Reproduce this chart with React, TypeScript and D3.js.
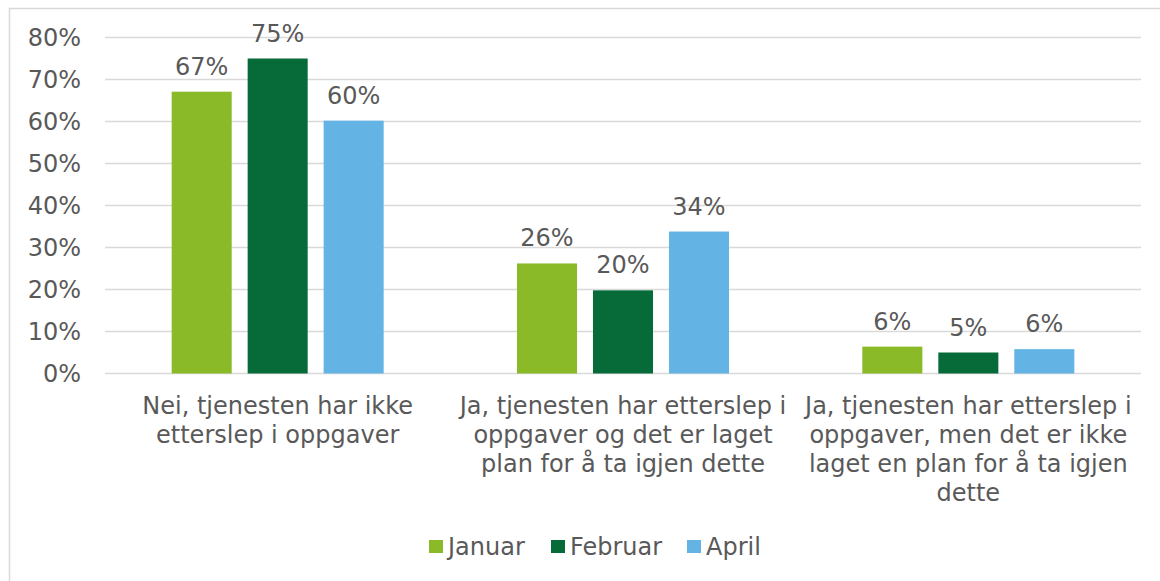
import React from "react";
import * as d3 from "d3";

const categories = [
  "Nei, tjenesten har ikke\netterslep i oppgaver",
  "Ja, tjenesten har etterslep i\noppgaver og det er laget\nplan for å ta igjen dette",
  "Ja, tjenesten har etterslep i\noppgaver, men det er ikke\nlaget en plan for å ta igjen\ndette",
];
const seriesNames = ["Januar", "Februar", "April"];
const januar = [67.1, 26.2, 6.4];
const februar = [75, 19.8, 5.0];
const april = [60.2, 33.8, 5.8];
const labelsJan = ["67%", "26%", "6%"];
const labelsFeb = ["75%", "20%", "5%"];
const labelsApr = ["60%", "34%", "6%"];
const yTicks = [0, 10, 20, 30, 40, 50, 60, 70, 80];
const colors = ["#8aba27", "#066b38", "#63b4e4"];

const W = 1160;
const H = 581;
const FONT = "'DejaVu Sans', Verdana, sans-serif";
const TEXT = "#595959";
const FS = 24;

export default function App() {
  const values = [januar, februar, april];
  const labels = [labelsJan, labelsFeb, labelsApr];
  const x0 = d3.scaleBand<number>().domain(d3.range(categories.length)).range([105, 1141]).paddingInner(0).paddingOuter(0);
  const x1 = d3.scaleBand<number>().domain(d3.range(3)).range([0, 212]).paddingInner(0.21).paddingOuter(0);
  const y = d3.scaleLinear().domain([0, 80]).range([373.5, 37.5]);
  const groupOffset = (x0.bandwidth() - 212) / 2;

  const legendX = [429, 551, 687];

  return (
    <svg width={W} height={H} style={{ position: "absolute", left: 0, top: 0, background: "#fff" }} fontFamily={FONT}>
      <rect x={9.5} y={8.5} width={W} height={H} fill="#fff" stroke="#d9d9d9" strokeWidth={1.5} />
      {yTicks.map((t) => (
        <g key={t}>
          <line x1={105} x2={1141} y1={y(t)} y2={y(t)} stroke="#d9d9d9" strokeWidth={1.5} />
          <text x={81} y={y(t) + 8.5} textAnchor="end" fontSize={FS} fill={TEXT}>{t}%</text>
        </g>
      ))}
      {categories.map((c, ci) => (
        <g key={ci}>
          {values.map((vals, si) => {
            const bx = (x0(ci) as number) + groupOffset + (x1(si) as number);
            const bw = x1.bandwidth();
            return (
              <g key={si}>
                <rect x={bx} y={y(vals[ci])} width={bw} height={y(0) - y(vals[ci])} fill={colors[si]} />
                <text x={bx + bw / 2} y={y(vals[ci]) - 17} textAnchor="middle" fontSize={FS} fill={TEXT}>{labels[si][ci]}</text>
              </g>
            );
          })}
          {c.split("\n").map((line, li) => (
            <text key={li} x={(x0(ci) as number) + x0.bandwidth() / 2} y={413.5 + li * 29} textAnchor="middle" fontSize={FS} fill={TEXT}>{line}</text>
          ))}
        </g>
      ))}
      {seriesNames.map((s, i) => (
        <g key={s}>
          <rect x={legendX[i]} y={540} width={14} height={13} fill={colors[i]} />
          <text x={legendX[i] + 19} y={555} fontSize={FS} fill={TEXT}>{s}</text>
        </g>
      ))}
    </svg>
  );
}
